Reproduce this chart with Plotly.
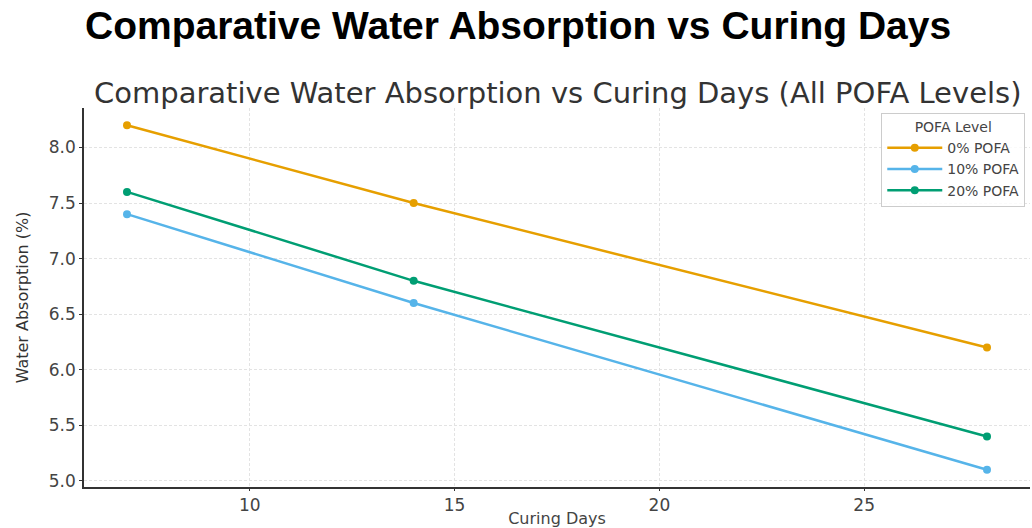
import plotly.graph_objects as go

days = [7, 14, 28]
pofa_levels = ["0% POFA", "10% POFA", "20% POFA"]
absorption_0 = [8.2, 7.5, 6.2]
absorption_10 = [7.4, 6.6, 5.1]
absorption_20 = [7.6, 6.8, 5.4]
colors = ["#E69F00", "#56B4E9", "#009E73"]

fig = go.Figure()
for name, vals, c in zip(pofa_levels, [absorption_0, absorption_10, absorption_20], colors):
    fig.add_trace(go.Scatter(x=days, y=vals, mode="lines+markers", name=name,
                             line=dict(color=c, width=2.5),
                             marker=dict(color=c, size=8)))

fig.update_layout(
    width=1032, height=528,
    margin=dict(l=84, r=2, t=108, b=41, autoexpand=False),
    paper_bgcolor="white", plot_bgcolor="white",
    font=dict(family="DejaVu Sans", color="#444"),
    annotations=[
        dict(text="<b>Comparative Water Absorption vs Curing Days</b>", xref="paper", yref="paper",
             x=0.459, y=1, xanchor="center", yanchor="bottom", yshift=59, showarrow=False,
             font=dict(family="Liberation Sans", size=39, color="black")),
        dict(text="Comparative Water Absorption vs Curing Days (All POFA Levels)", xref="paper", yref="paper",
             x=0.5, y=1, xanchor="center", yanchor="bottom", yshift=-4, showarrow=False,
             font=dict(family="DejaVu Sans", size=29, color="#333")),
    ],
    legend=dict(x=0.995, y=0.987, xanchor="right", yanchor="top",
                bordercolor="#ccc", borderwidth=1, bgcolor="rgba(255,255,255,0.8)",
                title=dict(text="POFA Level", side="top center", font=dict(size=14, color="#444")),
                font=dict(size=14, color="#444"), tracegroupgap=0, itemwidth=55),
    xaxis=dict(range=[5.95, 29.05], tickvals=[10, 15, 20, 25], showgrid=True, gridcolor="#e3e3e3",
               griddash="3px,2px", gridwidth=1, showline=True, linecolor="#333", linewidth=1.5,
               ticks="outside", ticklen=2, tickcolor="#333", zeroline=False, automargin=False,
               tickfont=dict(size=17, color="#444"),
               title=dict(text="Curing Days", font=dict(size=16, color="#444"), standoff=7)),
    yaxis=dict(range=[4.945, 8.355], tickvals=[5.0, 5.5, 6.0, 6.5, 7.0, 7.5, 8.0], tickformat=".1f",
               showgrid=True, gridcolor="#e3e3e3", griddash="3px,2px", gridwidth=1, showline=True,
               linecolor="#333", linewidth=1.5, ticks="outside", ticklen=3, tickcolor="#333",
               zeroline=False, automargin=False, tickfont=dict(size=17, color="#444"),
               title=dict(text="Water Absorption (%)", font=dict(size=16, color="#333"), standoff=16)),
)
fig.write_html("out.html", config={"displayModeBar": False},
               post_script="document.body.style.margin='0';")
